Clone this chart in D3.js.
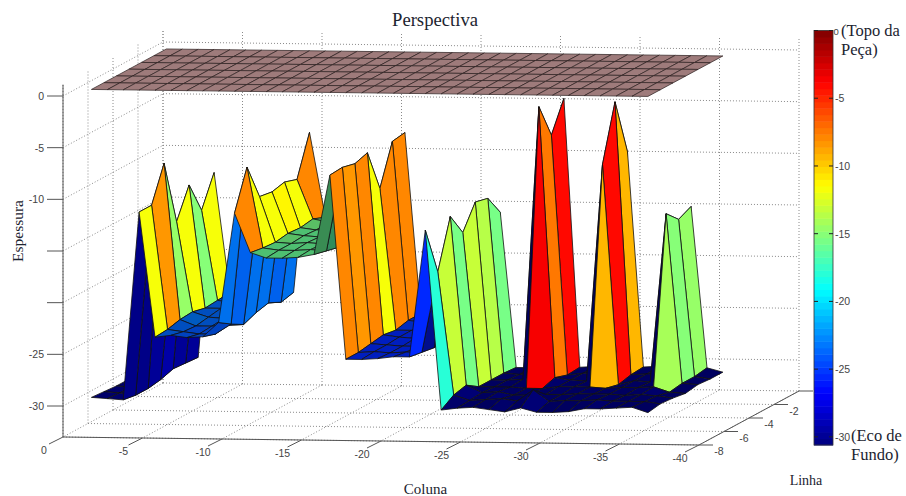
<!DOCTYPE html>
<html><head><meta charset="utf-8">
<script src="https://cdn.jsdelivr.net/npm/d3@7/dist/d3.min.js"></script>
<style>html,body{margin:0;padding:0;background:#fff}svg{display:block}</style>
</head><body><div id="chart"></div>
<script>
// Surface thickness per Linha row (l=-7 ... -1), columns 1..36 of Coluna (negated)
const row1 = [-29.8,-29.9,-30.0,-11.8,-23.9,-23.7,-23.9,-23.8,-22.4,-11.8,-15.6,-16.1,-16.1,-16.0,-15.7,-8.0,-25.8,-25.8,-25.7,-25.5,-25.5,-13.2,-30.6,-30.4,-30.3,-30.5,-30.7,-30.3,-30.7,-30.7,-30.6,-30.3,-30.3,-30.2,-30.1,-30.6];
const row2 = [-29.9,-30.0,-30.2,-11.8,-23.8,-24.0,-24.2,-24.2,-23.2,-8.0,-15.8,-16.0,-16.0,-15.9,-16.0,-7.9,-25.8,-25.7,-25.8,-25.7,-25.7,-17.9,-29.8,-30.3,-30.2,-30.1,-30.3,-29.2,-30.3,-30.2,-30.2,-30.1,-30.2,-30.2,-30.2,-30.4];
const row3 = [-30.0,-30.1,-30.2,-8.4,-23.5,-24.1,-24.1,-24.0,-23.9,-11.5,-15.9,-16.0,-15.9,-16.0,-16.3,-8.2,-25.6,-25.7,-25.8,-25.8,-25.9,-13.2,-29.5,-30.2,-30.1,-30.4,-30.4,-30.3,-30.3,-30.2,-30.2,-30.2,-30.3,-30.2,-30.3,-30.5];
const row4 = [-30.0,-30.0,-30.0,-14.7,-23.4,-23.9,-24.0,-23.9,-23.4,-11.7,-15.7,-15.9,-16.0,-16.0,-16.0,-7.8,-25.4,-25.6,-25.7,-25.7,-25.7,-15.4,-30.3,-30.3,-30.3,-30.4,-30.4,-30.2,-30.2,-30.2,-30.3,-30.2,-30.2,-30.1,-30.6,-30.7];
const row5 = [-29.8,-29.7,-29.6,-11.8,-23.7,-23.7,-23.9,-23.8,-23.1,-11.4,-15.8,-16.0,-15.9,-15.9,-16.0,-11.9,-25.6,-25.6,-25.6,-25.6,-25.6,-13.1,-30.3,-30.3,-30.2,-3.8,-30.0,-30.2,-30.3,-9.3,-30.6,-30.2,-30.3,-14.0,-30.4,-30.5];
const row6 = [-29.8,-29.7,-29.7,-14.9,-23.6,-23.8,-23.7,-23.8,-23.7,-11.8,-15.6,-15.9,-16.0,-15.9,-16.0,-8.0,-25.3,-25.5,-25.6,-25.6,-25.6,-13.4,-30.3,-30.4,-30.3,-7.2,-30.4,-30.2,-30.2,-3.9,-30.3,-30.2,-30.2,-15.2,-30.4,-30.6];
const row7 = [-29.8,-29.8,-29.8,-11.9,-23.5,-23.6,-23.6,-23.6,-23.4,-7.9,-16.1,-16.0,-16.0,-16.0,-16.0,-7.8,-25.3,-25.5,-25.6,-25.6,-25.6,-15.4,-30.4,-30.4,-30.3,-4.3,-30.3,-30.2,-30.2,-9.4,-30.2,-30.1,-30.2,-14.6,-30.2,-30.6];
const surfaceRows = [row1,row2,row3,row4,row5,row6,row7];

const colunaTicks = [0,-5,-10,-15,-20,-25,-30,-35,-40];
const linhaTicks = [-2,-4,-6,-8];
const linhaGrid = [0,-2,-4,-6,-8];
const espessuraTicks = [0,-5,-10,-15,-20,-25,-30];
const espessuraLabels = ["0","-5","-10","","","-25","-30"];
const colorbarTicks = [0,-5,-10,-15,-20,-25,-30];

const W=906,H=496;
const svg=d3.select("#chart").append("svg").attr("width",W).attr("height",H);

// oblique projection built from linear scales
const colX=d3.scaleLinear().domain([0,-40]).range([63,699]);
const colY=d3.scaleLinear().domain([0,-40]).range([0,8]);
const linX=d3.scaleLinear().domain([-8,0]).range([0,100]);
const linY=d3.scaleLinear().domain([-8,0]).range([0,-54]);
const zY=d3.scaleLinear().domain([0,-33]).range([96,437]);
const zMax=1.1, zMin=-33;
const P=(c,l,z)=>[colX(c)+linX(l), zY(z)+colY(c)+linY(l)];
const line=d3.line();

// jet colormap, 64 levels
const jet=t=>{const f=v=>Math.round(255*Math.max(0,Math.min(1,v)));
  return [f(Math.min(4*t-1.5,-4*t+4.5)),f(Math.min(4*t-0.5,-4*t+3.5)),f(Math.min(4*t+0.5,-4*t+2.5))];};
const levels=d3.range(64).map(i=>jet((i+0.5)/64));
const colorScale=d3.scaleQuantize().domain([-30.6,0]).range(levels);
const rgb=(c,s)=>`rgb(${Math.round(c[0]*s)},${Math.round(c[1]*s)},${Math.round(c[2]*s)})`;

// gridlines
const grid=svg.append("g").attr("fill","none").attr("stroke","#8a8a8a").attr("stroke-width",1).attr("stroke-dasharray","1 2");
const seg=(a,b)=>grid.append("path").attr("d",line([a,b]));
espessuraTicks.forEach(z=>{seg(P(0,-8,z),P(0,0,z));seg(P(0,0,z),P(-40,0,z));});
linhaGrid.forEach(l=>{seg(P(0,l,zMin),P(0,l,zMax));seg(P(0,l,zMin),P(-40,l,zMin));});
colunaTicks.forEach(c=>{seg(P(c,0,zMin),P(c,0,zMax));seg(P(c,0,zMin),P(c,-8,zMin));});

// axes
const ax=svg.append("g").attr("fill","none").attr("stroke","#555").attr("stroke-width",1);
ax.append("path").attr("d",line([P(0,-8,zMax),P(0,-8,zMin),P(-40,-8,zMin),P(-40,0,zMin)]));
const tl=svg.append("g").attr("font-family","'Liberation Sans',Arial,sans-serif").attr("font-size",10.5).attr("fill","#444");
espessuraTicks.forEach((z,i)=>{const p=P(0,-8,z);
  ax.append("path").attr("d",line([[p[0]-16,p[1]],p]));
  if(espessuraLabels[i]) tl.append("text").attr("x",p[0]-19).attr("y",p[1]+4).attr("text-anchor","end").text(espessuraLabels[i]);
});
colunaTicks.forEach(c=>{const p=P(c,-8,zMin);
  ax.append("path").attr("d",line([p,[p[0]-14,p[1]+7]]));
  tl.append("text").attr("x",p[0]-19).attr("y",p[1]+17).attr("text-anchor","middle").text(c);
});
[0,...linhaTicks].forEach(l=>{const p=P(-40,l,zMin);
  ax.append("path").attr("d",line([p,[p[0]+14,p[1]]]));
  if(l!==0) tl.append("text").attr("x",p[0]+20).attr("y",p[1]+10).attr("text-anchor","middle").text(l);
});

// surface, drawn back to front
const surf=svg.append("g").attr("stroke","#111").attr("stroke-width",0.8).attr("stroke-linejoin","round");
const nCols=row1.length,nRows=surfaceRows.length;
const cOf=j=>-(j+1), lOf=i=>i-7;
const dim=(i,j)=>{
  const n=j+1;
  if(n===15) return 0.55;
  if(n===21&&i>=1) return 0.55;
  if(n===25||n===29||n===33) return 0.7;
  if(n===9) return 0.93;
  return null;
};
const faces=[];
for(let j=0;j<nCols-1;j++){for(let i=nRows-2;i>=0;i--){
  const zs=[surfaceRows[i][j],surfaceRows[i+1][j],surfaceRows[i+1][j+1],surfaceRows[i][j+1]];
  const flat=d3.max(zs)-d3.min(zs)<3;
  const d=dim(i,j);
  const s=d!==null?d:(flat?(d3.max(zs)<-28?0.7:0.75):1);
  faces.push({i,j,zs,col:rgb(colorScale(surfaceRows[i+1][j]),s)});
}}
surf.selectAll("path").data(faces).join("path")
  .attr("fill",d=>d.col)
  .attr("d",d=>line([P(cOf(d.j),lOf(d.i),d.zs[0]),P(cOf(d.j),lOf(d.i+1),d.zs[1]),P(cOf(d.j+1),lOf(d.i+1),d.zs[2]),P(cOf(d.j+1),lOf(d.i),d.zs[3])])+"Z");

// top-of-piece plane at z=0
const plate=svg.append("g").attr("fill","#9e7b7b").attr("stroke","#2a1e1e").attr("stroke-width",0.7);
for(let j=0;j<nCols-1;j++){for(let i=nRows-2;i>=0;i--){
  plate.append("path").attr("d",line([P(cOf(j),lOf(i),0),P(cOf(j),lOf(i+1),0),P(cOf(j+1),lOf(i+1),0),P(cOf(j+1),lOf(i),0)])+"Z");
}}

// colorbar
const cbY=d3.scaleLinear().domain([0,-30.6]).range([30.5,445]);
const cb=svg.append("g");
const cbX0=814,cbW=19;
levels.forEach((c,i)=>{
  const hi=-30.6*(1-(i+1)/64), lo=-30.6*(1-i/64);
  cb.append("rect").attr("x",cbX0).attr("width",cbW).attr("y",cbY(hi)).attr("height",cbY(lo)-cbY(hi)+0.5).attr("fill",rgb(c,1));
});
cb.append("rect").attr("x",cbX0).attr("y",cbY(0)).attr("width",cbW).attr("height",cbY(-30.6)-cbY(0)).attr("fill","none").attr("stroke","#333").attr("stroke-width",0.8);
colorbarTicks.forEach(z=>{const y=cbY(z);
  cb.append("path").attr("d",line([[cbX0,y],[cbX0+4,y]])).attr("stroke","#222");
  cb.append("path").attr("d",line([[cbX0+cbW-4,y],[cbX0+cbW,y]])).attr("stroke","#222");
  cb.append("text").attr("x",z===0?833.5:835).attr("y",y+4).attr("font-family","'Liberation Sans',Arial,sans-serif").attr("font-size",z===0?9.5:10.5).attr("fill","#444").text(z);
});

// text
const serif=svg.append("g").attr("font-family","'Liberation Serif','Times New Roman',serif").attr("fill","#1c2430");
serif.append("text").attr("x",435).attr("y",26).attr("text-anchor","middle").attr("font-size",18).attr("textLength",86).attr("lengthAdjust","spacingAndGlyphs").text("Perspectiva");
serif.append("text").attr("x",425.5).attr("y",494).attr("text-anchor","middle").attr("font-size",15).text("Coluna");
serif.append("text").attr("x",806).attr("y",485).attr("text-anchor","middle").attr("font-size",14).text("Linha");
serif.append("text").attr("transform","translate(23,231) rotate(-90)").attr("text-anchor","middle").attr("font-size",15.5).text("Espessura");
serif.append("text").attr("x",841).attr("y",36).attr("font-size",16.5).text("(Topo da");
serif.append("text").attr("x",841).attr("y",55).attr("font-size",16.5).text("Peça)");
serif.append("text").attr("x",851).attr("y",441).attr("font-size",16.5).text("(Eco de");
serif.append("text").attr("x",851).attr("y",460).attr("font-size",16.5).text("Fundo)");
</script></body></html>
